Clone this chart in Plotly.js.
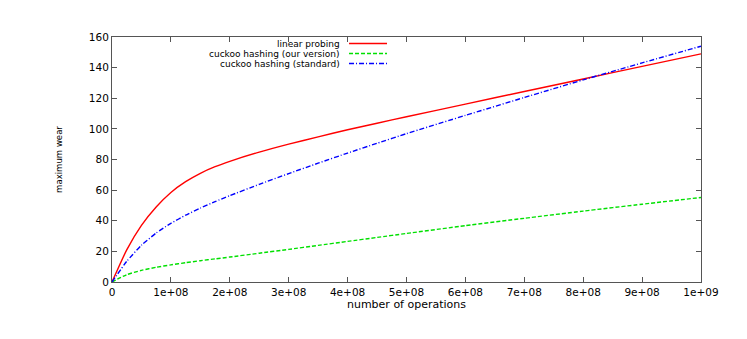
<!DOCTYPE html>
<html>
<head>
<meta charset="utf-8">
<script src="https://cdn.plot.ly/plotly-3.0.1.min.js"></script>
<style>
  html, body { margin: 0; padding: 0; background: #fff; }
  #plot { width: 747px; height: 339px; }
</style>
</head>
<body>
<div id="plot"></div>
<script>
// ====== Data ======
var ops = [0, 0.25e8, 0.5e8, 0.75e8, 1e8, 1.25e8, 1.5e8, 1.75e8, 2e8, 2.5e8, 3e8,
           3.5e8, 4e8, 4.5e8, 5e8, 6e8, 7e8, 8e8, 9e8, 1e9];
var linearProbing = [0, 21, 37, 49, 58.5, 65.5, 71, 75.3, 78.8, 84.8, 90,
                     94.8, 99.4, 103.7, 107.9, 116.2, 124.4, 132.6, 140.8, 149];
var cuckooOurs = [0, 4.8, 7.6, 9.6, 11.2, 12.6, 13.9, 15.1, 16.3, 18.8, 21.3,
                  23.9, 26.5, 29.1, 31.7, 36.8, 41.6, 46.3, 50.8, 55.2];
var cuckooStd = [0, 13.5, 24, 32, 38.3, 43.6, 48.3, 52.5, 56.4, 63.8, 70.8,
                 77.6, 84.2, 90.6, 96.9, 108.8, 120.5, 132, 143.1, 154];

var seriesNames = ['linear probing', 'cuckoo hashing (our version)', 'cuckoo hashing (standard)'];
var xTickVals = [0, 1e8, 2e8, 3e8, 4e8, 5e8, 6e8, 7e8, 8e8, 9e8, 1e9];
var xTickText = ['0', '1e+08', '2e+08', '3e+08', '4e+08', '5e+08', '6e+08', '7e+08', '8e+08', '9e+08', '1e+09'];

// ====== Styling ======
var font = 'DejaVu Sans, Liberation Sans, sans-serif';
var styles = [
  { color: '#ff0000', dash: 'solid' },
  { color: '#00e000', dash: '4px,2px' },
  { color: '#0000ff', dash: '5px,2px,1px,2px' }
];
var ys = [linearProbing, cuckooOurs, cuckooStd];

var traces = ys.map(function (y, i) {
  return {
    x: ops, y: y, name: seriesNames[i], type: 'scatter', mode: 'lines',
    line: { color: styles[i].color, width: 1.4, dash: styles[i].dash, shape: 'spline', smoothing: 0.5 },
    showlegend: false
  };
});

// hand-made legend: text right-aligned, sample line on its right (gnuplot style)
var legY = [0.9734, 0.9326, 0.8917];
var annotations = [], shapes = [];
seriesNames.forEach(function (name, i) {
  annotations.push({
    xref: 'paper', yref: 'paper', x: 0.3905, y: legY[i],
    xanchor: 'right', yanchor: 'middle', showarrow: false,
    text: name, font: { family: font, size: 9, color: '#000' }
  });
  shapes.push({
    type: 'line', xref: 'paper', yref: 'paper',
    x0: 0.4024, x1: 0.4669, y0: legY[i], y1: legY[i],
    line: { color: styles[i].color, width: 1.4, dash: styles[i].dash }
  });
});

var axisCommon = {
  showgrid: false, zeroline: false, showline: true,
  linecolor: '#555', linewidth: 1,
  mirror: 'allticks', ticks: 'inside', ticklen: 5, tickcolor: '#555',
  tickfont: { family: font, size: 10.5, color: '#000' }
};

var layout = {
  width: 747, height: 339,
  margin: { l: 112, r: 46, t: 37, b: 57 },
  paper_bgcolor: '#fff', plot_bgcolor: '#fff',
  showlegend: false,
  xaxis: Object.assign({}, axisCommon, {
    range: [0, 1e9], tickvals: xTickVals, ticktext: xTickText,
    title: { text: 'number of operations', font: { family: font, size: 11, color: '#000' }, standoff: 2 }
  }),
  yaxis: Object.assign({}, axisCommon, {
    range: [0, 160], dtick: 20,
    title: { text: 'maximum wear', font: { family: 'Liberation Sans Narrow, DejaVu Sans Condensed, sans-serif', size: 9.5, color: '#000' }, standoff: 24 }
  }),
  annotations: annotations,
  shapes: shapes
};

Plotly.newPlot('plot', traces, layout, { displayModeBar: false, staticPlot: true });
</script>
</body>
</html>
